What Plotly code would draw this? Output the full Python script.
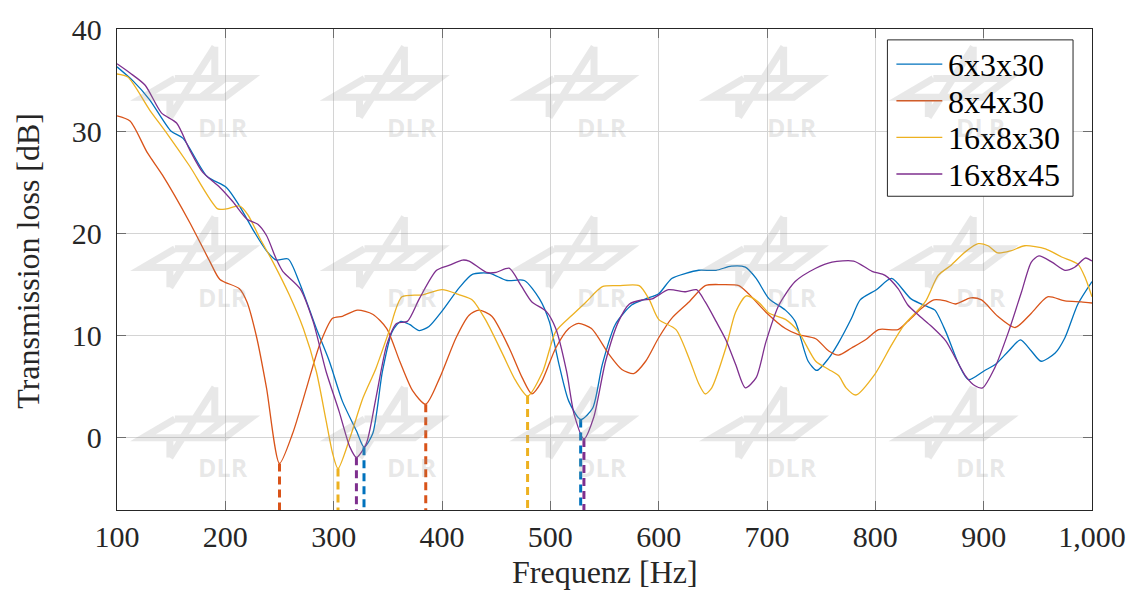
import plotly.graph_objects as go

# ---------------- data ----------------
f_6x3x30 = [100,115,130,150,161,183,201,213,227,238,247,258,268,284,296,308,321,328,336,345,354,362,370,379,388,400,416,428,444,460,476,490,499,508,517,528,539,548,560,575,588,600,612,625,637,653,667,680,690,702,717,726,738,746,757,766,778,786,801,815,833,849,855,865,877,886,901,911,923,934,944,953,966,975,987,1000]
tl_6x3x30 = [36.3,34.9,33.1,30.0,29.3,25.6,24.5,22.7,20.1,18.3,17.4,17.5,15.3,10.7,7.5,3.6,0.7,-0.9,0.4,6.5,10.4,11.4,11.1,10.5,10.9,12.4,14.7,16.0,16.1,15.4,15.4,13.6,11.4,7.2,3.6,1.8,2.9,7.2,11.1,13.0,13.6,14.1,15.6,16.1,16.4,16.4,16.8,16.7,15.6,13.6,12.5,11.4,7.5,6.6,7.8,9.3,11.7,13.5,14.5,15.6,13.6,12.8,12.5,10.4,7.2,5.7,6.6,7.2,8.5,9.6,8.5,7.5,8.3,9.8,13.1,15.3]

f_8x4x30 = [100,112,128,142,167,186,195,213,220,229,238,250,262,275,287,299,308,322,336,349,361,373,385,398,413,425,434,446,462,474,483,492,505,517,526,538,554,566,577,588,600,612,628,643,658,674,683,699,717,729,745,757,766,778,791,803,821,830,843,854,865,874,888,898,913,929,944,959,975,990,1000]
tl_8x4x30 = [31.5,31.0,27.9,25.7,21.1,17.2,15.5,14.6,13.3,9.8,4.9,-2.5,0.4,4.9,9.1,11.7,11.9,12.5,12.1,10.7,7.5,4.6,3.3,5.9,9.8,12.0,12.5,11.9,8.8,5.9,4.3,5.5,8.8,10.7,11.2,10.7,8.2,6.7,6.3,7.5,9.8,11.7,13.3,14.9,15.0,14.9,14.1,12.3,10.7,10.1,9.7,8.5,8.1,8.8,9.6,10.6,10.6,11.4,12.7,13.5,13.4,13.1,13.7,13.5,11.9,10.8,12.2,13.8,13.4,13.3,13.2]

f_16x8x30 = [100,110,130,146,167,193,201,213,221,232,244,259,272,284,293,299,304,315,327,339,351,363,382,400,416,428,441,456,468,479,493,505,520,533,548,563,582,591,600,616,628,637,643,649,662,671,681,692,702,717,729,745,757,766,773,782,800,815,827,846,858,870,883,895,904,913,925,938,957,972,987,994,1000]
tl_16x8x30 = [35.6,35.3,32.1,29.8,26.6,22.4,22.4,22.7,21.8,19.5,17.2,14.0,10.7,6.5,1.7,-1.5,-3.0,0.0,3.9,6.8,10.4,13.8,14.0,14.5,14.0,13.5,11.4,8.2,5.6,4.1,6.5,10.4,12.0,13.3,14.8,14.9,14.9,13.6,11.6,10.6,7.8,5.3,4.3,4.9,8.8,12.3,13.9,13.3,12.2,11.6,10.4,7.5,6.7,6.1,4.9,4.2,6.3,9.1,11.1,13.3,15.9,16.9,18.2,19.0,18.8,18.1,18.3,18.8,18.5,17.7,17.0,15.6,13.8]

f_16x8x45 = [100,112,126,141,155,167,179,195,207,220,230,238,247,253,269,281,293,305,315,321,330,339,349,358,368,379,395,407,419,425,441,450,462,473,483,496,505,515,522,531,540,551,563,573,585,594,609,625,635,643,653,662,671,680,690,699,711,726,745,760,780,797,809,821,830,840,852,865,874,883,892,899,910,923,935,944,951,963,975,984,994,1000]
tl_16x8x45 = [36.6,35.7,34.5,31.8,30.8,28.2,26.0,24.5,23.1,21.4,20.9,19.8,17.5,16.3,14.6,11.4,6.5,2.6,-0.9,-1.9,-0.6,3.9,9.1,11.2,11.4,13.6,16.4,16.9,17.4,17.3,16.2,16.2,16.6,14.9,13.3,12.4,10.7,6.5,2.3,-0.1,2.0,7.5,11.4,13.1,13.5,13.6,14.5,14.3,14.5,13.3,11.4,9.6,7.2,4.9,5.9,9.4,13.0,15.3,16.6,17.2,17.3,16.3,15.9,14.6,13.0,12.0,10.9,9.5,7.8,6.1,5.1,4.9,6.8,10.4,14.3,17.2,17.8,17.2,16.4,16.7,17.6,17.3]

# marked minima (frequency, level)
min_f_6x3x30 = [328, 528];   min_tl_6x3x30 = [-0.9, 1.8]
min_f_8x4x30 = [250, 385];   min_tl_8x4x30 = [-2.5, 3.3]
min_f_16x8x30 = [304, 479];  min_tl_16x8x30 = [-3.0, 4.1]
min_f_16x8x45 = [321, 531];  min_tl_16x8x45 = [-1.9, -0.1]

series_names = ["6x3x30", "8x4x30", "16x8x30", "16x8x45"]
x_ticks = [100, 200, 300, 400, 500, 600, 700, 800, 900, 1000]
x_tick_labels = ["100", "200", "300", "400", "500", "600", "700", "800", "900", "1,000"]
y_ticks = [0, 10, 20, 30, 40]
y_tick_labels = ["0", "10", "20", "30", "40"]

# ---------------- figure ----------------
W, H = 1138, 590
L, R, T, B = 117, 44, 24, 80
Y_MIN, Y_MAX = -7.05, 40
SERIF = "Liberation Serif"

series = [
    (series_names[0], f_6x3x30, tl_6x3x30, min_f_6x3x30, min_tl_6x3x30, "#0072BD"),
    (series_names[1], f_8x4x30, tl_8x4x30, min_f_8x4x30, min_tl_8x4x30, "#D95319"),
    (series_names[2], f_16x8x30, tl_16x8x30, min_f_16x8x30, min_tl_16x8x30, "#EDB120"),
    (series_names[3], f_16x8x45, tl_16x8x45, min_f_16x8x45, min_tl_16x8x45, "#7E2F8E"),
]

fig = go.Figure()
for name, fx, fy, mx, my, col in series:
    fig.add_trace(go.Scatter(x=fx, y=fy, mode="lines", name=name, showlegend=False,
                             line=dict(color=col, width=1.3, shape="spline", smoothing=0.7)))
for name, fx, fy, mx, my, col in series:
    for xv, yv in zip(mx, my):
        fig.add_trace(go.Scatter(x=[xv, xv], y=[yv, Y_MIN], mode="lines", showlegend=False,
                                 hoverinfo="skip",
                                 line=dict(color=col, width=3, dash="8px,5px")))

pw, ph = W - L - R, H - T - B
def P(px, py):
    """page pixel -> paper coordinates"""
    return ((px - L) / pw, (T + ph - py) / ph)

shapes = []
annots = []

# ---------------- legend box (drawn as in the reference) ----------------
bx0, by0 = P(889, 35)
bx1, by1 = P(1075, 193)
shapes.append(dict(type="rect", xref="paper", yref="paper", x0=bx0, y0=by1, x1=bx1, y1=by0,
                   fillcolor="white", line=dict(color="#262626", width=1), layer="above"))
for i, (name, fx, fy, mx, my, col) in enumerate(series):
    ly = 59.5 + i * 37
    lx0, lyp = P(898, ly)
    lx1, _ = P(944, ly)
    shapes.append(dict(type="line", xref="paper", yref="paper", x0=lx0, x1=lx1, y0=lyp, y1=lyp,
                       line=dict(color=col, width=1.3), layer="above"))
    tx, ty = P(948, ly + 1)
    annots.append(dict(text=name, x=tx, y=ty, xref="paper", yref="paper", showarrow=False,
                       xanchor="left", yanchor="middle",
                       font=dict(family=SERIF, size=32, color="#000000")))

# ---------------- DLR watermark (decoration) ----------------
logo_rel = [
    [(0, 0), (-45, 71)],
    [(0, 0), (0, 32)],
    [(-45, 71), (-45, 51)],
    [(-40, 32), (35, 32), (10, 51), (-72, 51), (-40, 32)],
    [(10, 32), (-14, 51)],
]
for ay in [42, 214, 386]:
    for ax in [215, 405, 595, 785, 975]:
        d = ""
        for poly in logo_rel:
            pts = [P(ax + dx, ay + dy) for dx, dy in poly]
            d += "M%.5f,%.5f " % pts[0] + " ".join("L%.5f,%.5f" % p for p in pts[1:]) + " "
        shapes.append(dict(type="path", xref="paper", yref="paper", path=d,
                           line=dict(color="rgba(150,150,150,0.22)", width=7),
                           layer="above"))
        tx, ty = P(ax + 8, ay + 81)
        annots.append(dict(text="DLR", x=tx, y=ty, xref="paper", yref="paper",
                           showarrow=False, xanchor="center", yanchor="middle",
                           font=dict(family="Open Sans", size=25, weight=700,
                                     color="rgba(150,150,150,0.22)")))

# axis titles
annots.append(dict(text="Frequenz [Hz]", x=0.5, y=P(0, 573)[1], xref="paper", yref="paper",
                   showarrow=False, xanchor="center", yanchor="middle",
                   font=dict(family=SERIF, size=32, color="#262626")))
annots.append(dict(text="Transmission loss [dB]", x=P(27, 0)[0], y=P(0, 258)[1],
                   xref="paper", yref="paper", textangle=-90,
                   showarrow=False, xanchor="center", yanchor="middle",
                   font=dict(family=SERIF, size=32, color="#262626")))

axis_common = dict(showgrid=True, gridcolor="#d4d4d4", gridwidth=1,
                   showline=True, linecolor="#262626", linewidth=1.3, mirror="allticks",
                   ticks="inside", ticklen=9, tickcolor="#6e6e6e", tickwidth=1,
                   zeroline=False,
                   tickfont=dict(family=SERIF, size=30, color="#262626"))

fig.update_layout(
    width=W, height=H,
    margin=dict(l=L, r=R, t=T, b=B),
    paper_bgcolor="white", plot_bgcolor="white",
    xaxis=dict(range=[100, 1000], tickvals=x_ticks, ticktext=x_tick_labels, **axis_common),
    yaxis=dict(range=[Y_MIN, Y_MAX], tickvals=y_ticks, ticktext=y_tick_labels,
               ticklabelstandoff=8, **axis_common),
    shapes=shapes,
    annotations=annots,
    showlegend=False,
)

fig.write_html("out.html", config={"displayModeBar": False},
               post_script="document.body.style.margin='0';")
